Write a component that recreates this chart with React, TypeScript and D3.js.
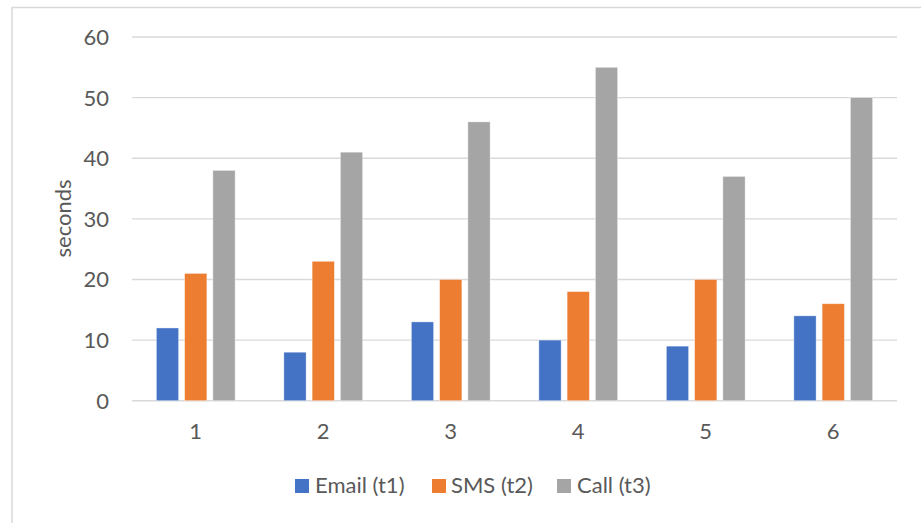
import React from "react";
import * as d3 from "d3";

const categories = ["1", "2", "3", "4", "5", "6"];
const seriesNames = ["Email (t1)", "SMS (t2)", "Call (t3)"];
const emailValues = [12, 8, 13, 10, 9, 14];
const smsValues = [21, 23, 20, 18, 20, 16];
const callValues = [38, 41, 46, 55, 37, 50];
const yTicks = [0, 10, 20, 30, 40, 50, 60];
const colors = ["#4472C4", "#ED7D31", "#A5A5A5"];

export default function App() {
  const W = 921;
  const H = 523;
  const left = 132;
  const right = 897;
  const top = 37;
  const bottom = 400.7;
  const font = "Lato, 'Noto Sans', sans-serif";
  const textColor = "#595959";
  const fs = 22;

  const series = [emailValues, smsValues, callValues];
  const x0 = d3.scaleBand<string>().domain(categories).range([left, right]).paddingInner(0).paddingOuter(0);
  const y = d3.scaleLinear().domain([0, 60]).range([bottom, top]);

  const step = x0.bandwidth();
  const barW = step / (3 + 2 * 0.27 + 2.19);
  const gap = barW * 0.27;
  const groupW = 3 * barW + 2 * gap;

  const legendItems = [
    { sq: 295, tx: 315 },
    { sq: 432, tx: 451 },
    { sq: 557, tx: 577 },
  ];

  return (
    <svg
      width={W}
      height={H}
      style={{ position: "absolute", left: 0, top: 0, background: "#fff" }}
      fontFamily={font}
    >
      <rect x={0} y={0} width={W} height={H} fill="#fff" />
      <rect x={12} y={7.5} width={W + 20} height={H + 20} fill="none" stroke="#d9d9d9" strokeWidth={1.5} />
      {yTicks.map((t) => (
        <g key={t}>
          <line x1={left} x2={right} y1={y(t)} y2={y(t)} stroke="#d9d9d9" strokeWidth={1.4} />
          <text x={109} y={y(t)} dy="0.36em" textAnchor="end" fontSize={fs} fill={textColor}>
            {t}
          </text>
        </g>
      ))}
      {categories.map((c, i) => {
        const gx = (x0(c) as number) + step / 2 - groupW / 2;
        return (
          <g key={c}>
            {series.map((vals, s) => (
              <rect
                key={s}
                x={gx + s * (barW + gap)}
                y={y(vals[i])}
                width={barW}
                height={bottom - y(vals[i])}
                fill={colors[s]}
                stroke="#ffffff"
                strokeOpacity={0.5}
                strokeWidth={0.75}
              />
            ))}
            <text
              x={(x0(c) as number) + step / 2}
              y={439}
              textAnchor="middle"
              fontSize={fs}
              fill={textColor}
            >
              {c}
            </text>
          </g>
        );
      })}
      <text
        transform={`translate(71, ${218.5}) rotate(-90)`}
        textAnchor="middle"
        fontSize={fs}
        fill={textColor}
      >
        seconds
      </text>
      {seriesNames.map((n, i) => (
        <g key={n}>
          <rect x={legendItems[i].sq} y={479} width={14} height={14} fill={colors[i]} />
          <text x={legendItems[i].tx} y={493} fontSize={fs} fill={textColor}>
            {n}
          </text>
        </g>
      ))}
    </svg>
  );
}
